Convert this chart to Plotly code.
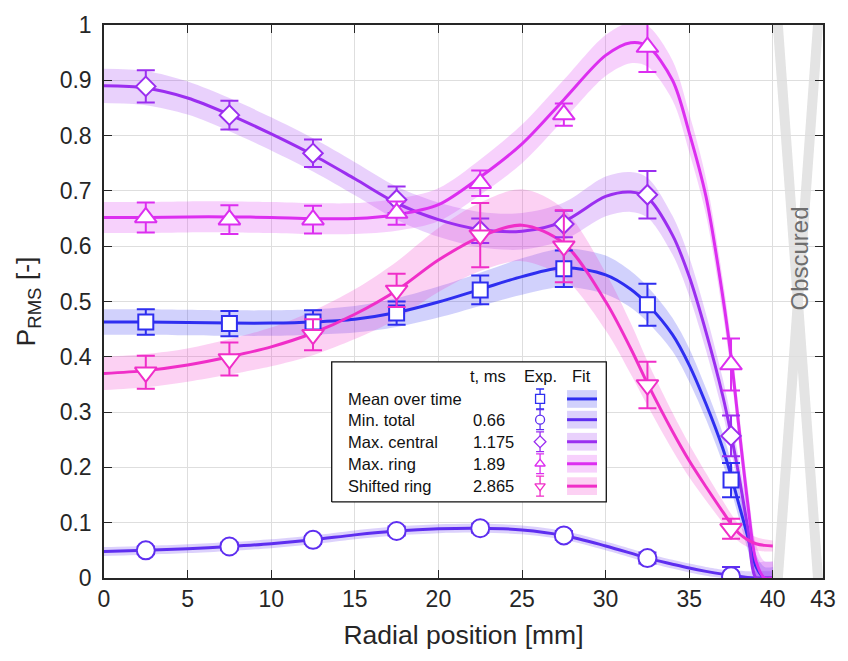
import plotly.graph_objects as go

# ---------------------------------------------------------------- data
# radial positions of the probe measurements [mm]
r_exp = [2.5, 7.5, 12.5, 17.5, 22.5, 27.5, 32.5, 37.5]

series_names = ["Mean over time", "Min. total", "Max. central", "Max. ring", "Shifted ring"]
series_times = ["", "0.66", "1.175", "1.89", "2.865"]
series_colors = ["#2e2ef0", "#5e2ef0", "#9b2ef0", "#dc2ef0", "#f02ec8"]
series_symbols = ["square", "circle", "diamond", "triangle-up", "triangle-down"]
series_sizes = [15, 18, 15, 19, 19]

# measured P_RMS and its uncertainty
p_mean = [0.463, 0.460, 0.463, 0.479, 0.521, 0.559, 0.494, 0.177]
e_mean = [0.023, 0.023, 0.021, 0.021, 0.026, 0.033, 0.038, 0.031]
p_min = [0.050, 0.057, 0.069, 0.085, 0.090, 0.077, 0.036, 0.003]
e_min = [0.007, 0.007, 0.007, 0.008, 0.008, 0.008, 0.010, 0.017]
p_cen = [0.889, 0.837, 0.768, 0.684, 0.628, 0.640, 0.693, 0.257]
e_cen = [0.029, 0.026, 0.025, 0.024, 0.022, 0.024, 0.043, 0.037]
p_ring = [0.652, 0.648, 0.648, 0.660, 0.714, 0.838, 0.960, 0.386]
e_ring = [0.027, 0.026, 0.025, 0.021, 0.023, 0.020, 0.045, 0.047]
p_shift = [0.372, 0.396, 0.440, 0.520, 0.620, 0.600, 0.349, 0.089]
e_shift = [0.030, 0.030, 0.028, 0.030, 0.058, 0.065, 0.042, 0.018]

# smooth radial fits and their confidence half-width
r_fit = [0, 2.5, 5, 7.5, 10, 12.5, 15, 17.5, 20, 22.5, 25, 27.5, 30, 31.5,
         32.5, 34, 35, 36, 37, 37.5, 38, 38.5, 39, 39.5, 40]
f_mean = [0.463, 0.463, 0.462, 0.461, 0.461, 0.463, 0.468, 0.480, 0.499, 0.522,
          0.545, 0.561, 0.548, 0.522, 0.495, 0.440, 0.385, 0.315, 0.235, 0.185,
          0.130, 0.075, 0.020, 0.0, 0.0]
w_mean = [0.023, 0.023, 0.023, 0.023, 0.023, 0.023, 0.024, 0.026, 0.028, 0.030,
          0.033, 0.035, 0.035, 0.033, 0.032, 0.030, 0.030, 0.028, 0.027, 0.026,
          0.025, 0.024, 0.022, 0.020, 0.020]
f_min = [0.048, 0.050, 0.053, 0.057, 0.062, 0.069, 0.078, 0.085, 0.089, 0.090,
         0.087, 0.077, 0.058, 0.045, 0.036, 0.025, 0.018, 0.012, 0.007, 0.005,
         0.003, 0.001, 0.0, 0.0, 0.0]
w_min = [0.008] * 20 + [0.010, 0.011, 0.012, 0.012, 0.012]
f_cen = [0.890, 0.886, 0.868, 0.838, 0.803, 0.765, 0.722, 0.678, 0.648, 0.630,
         0.627, 0.645, 0.690, 0.698, 0.688, 0.620, 0.545, 0.445, 0.330, 0.260,
         0.180, 0.090, 0.0, 0.0, 0.0]
w_cen = [0.031, 0.031, 0.030, 0.030, 0.030, 0.030, 0.030, 0.030, 0.031, 0.032,
         0.033, 0.034, 0.036, 0.036, 0.036, 0.035, 0.035, 0.033, 0.031, 0.030,
         0.030, 0.030, 0.030, 0.030, 0.030]
f_ring = [0.652, 0.652, 0.653, 0.653, 0.652, 0.650, 0.650, 0.657, 0.675, 0.725,
          0.785, 0.865, 0.945, 0.968, 0.962, 0.900, 0.805, 0.690, 0.510, 0.400,
          0.265, 0.135, 0.030, 0.0, 0.0]
w_ring = [0.028, 0.028, 0.028, 0.028, 0.028, 0.028, 0.028, 0.029, 0.030, 0.032,
          0.035, 0.036, 0.037, 0.037, 0.037, 0.036, 0.035, 0.033, 0.031, 0.030,
          0.030, 0.030, 0.030, 0.030, 0.030]
f_shift = [0.370, 0.375, 0.385, 0.400, 0.418, 0.443, 0.477, 0.520, 0.575, 0.617,
           0.638, 0.605, 0.500, 0.415, 0.352, 0.265, 0.212, 0.165, 0.120, 0.098,
           0.080, 0.069, 0.062, 0.059, 0.058]
w_shift = [0.030, 0.030, 0.030, 0.032, 0.035, 0.040, 0.045, 0.052, 0.058, 0.062,
           0.065, 0.062, 0.052, 0.046, 0.040, 0.034, 0.030, 0.025, 0.020, 0.018,
           0.015, 0.013, 0.012, 0.011, 0.010]

exp_vals = [p_mean, p_min, p_cen, p_ring, p_shift]
exp_errs = [e_mean, e_min, e_cen, e_ring, e_shift]
fit_vals = [f_mean, f_min, f_cen, f_ring, f_shift]
fit_wids = [w_mean, w_min, w_cen, w_ring, w_shift]

x_ticks = [0, 5, 10, 15, 20, 25, 30, 35, 40, 43]
y_ticks = [0, 0.1, 0.2, 0.3, 0.4, 0.5, 0.6, 0.7, 0.8, 0.9, 1]
y_tick_text = ["0", "0.1", "0.2", "0.3", "0.4", "0.5", "0.6", "0.7", "0.8", "0.9", "1"]
obscured = (40.0, 43.0)

# ---------------------------------------------------------------- style
FONT = "Liberation Sans, Arial, Helvetica, sans-serif"
AX = "#262626"
SMOOTH = 0.9


def rgba(hex_color, a):
    h = hex_color.lstrip("#")
    r, g, b = int(h[0:2], 16), int(h[2:4], 16), int(h[4:6], 16)
    return f"rgba({r},{g},{b},{a})"


fig = go.Figure()

# confidence bands of the fits
for col, f, w in zip(series_colors, fit_vals, fit_wids):
    lo = [max(v - d, 0.0) for v, d in zip(f, w)]
    hi = [v + d for v, d in zip(f, w)]
    fig.add_trace(go.Scatter(x=r_fit, y=lo, mode="lines",
                             line=dict(width=0, shape="spline", smoothing=SMOOTH),
                             showlegend=False, hoverinfo="skip"))
    fig.add_trace(go.Scatter(x=r_fit, y=hi, mode="lines", fill="tonexty",
                             fillcolor=rgba(col, 0.22),
                             line=dict(width=0, shape="spline", smoothing=SMOOTH),
                             showlegend=False, hoverinfo="skip"))

# fit curves
for col, f in zip(series_colors, fit_vals):
    fig.add_trace(go.Scatter(x=r_fit, y=f, mode="lines",
                             line=dict(color=col, width=3, shape="spline", smoothing=SMOOTH),
                             showlegend=False, hoverinfo="skip"))

# experimental points with error bars
for name, col, sym, size, v, e in zip(series_names, series_colors, series_symbols,
                                      series_sizes, exp_vals, exp_errs):
    fig.add_trace(go.Scatter(
        x=r_exp, y=v, mode="markers", name=name, showlegend=False,
        marker=dict(symbol=sym, size=size, color="white",
                    line=dict(color=col, width=2)),
        error_y=dict(type="data", array=e, visible=True, color=col,
                     thickness=2, width=9)))

# ---------------------------------------------------------------- legend table
# drawn on an overlay axis spanning the plot area in [0, 1] units
row_y = [0.3238, 0.2863, 0.2464, 0.2066, 0.1661]
box_x = [0.3167, 0.6986]
box_y = [0.1375, 0.391]
fig.add_trace(go.Scatter(
    x=[box_x[0], box_x[1], box_x[1], box_x[0], box_x[0]],
    y=[box_y[0], box_y[0], box_y[1], box_y[1], box_y[0]],
    mode="lines", fill="toself", fillcolor="white",
    line=dict(color="#111111", width=1.3),
    xaxis="x2", yaxis="y2", showlegend=False, hoverinfo="skip"))

exp_x = 0.6065
fit_x0, fit_x1 = 0.644, 0.6857
band_h = 0.016
for i, (col, sym) in enumerate(zip(series_colors, series_symbols)):
    yy = row_y[i]
    fig.add_trace(go.Scatter(
        x=[fit_x0, fit_x1, fit_x1, fit_x0, fit_x0],
        y=[yy - band_h, yy - band_h, yy + band_h, yy + band_h, yy - band_h],
        mode="lines", fill="toself", fillcolor=rgba(col, 0.22),
        line=dict(width=0), xaxis="x2", yaxis="y2",
        showlegend=False, hoverinfo="skip"))
    fig.add_trace(go.Scatter(
        x=[fit_x0, fit_x1], y=[yy, yy], mode="lines",
        line=dict(color=col, width=3), xaxis="x2", yaxis="y2",
        showlegend=False, hoverinfo="skip"))
    fig.add_trace(go.Scatter(
        x=[exp_x], y=[yy], mode="markers",
        marker=dict(symbol=sym, size=9, color="white", line=dict(color=col, width=1.3)),
        error_y=dict(type="constant", value=0.018, color=col, thickness=1.3, width=4),
        xaxis="x2", yaxis="y2", showlegend=False, hoverinfo="skip"))

annotations = []
leg_font = dict(family=FONT, size=16.5, color="#111111")
annotations.append(dict(x=0.5056, y=0.3655, xref="paper", yref="paper", text="t, ms",
                        showarrow=False, xanchor="left", yanchor="middle", font=leg_font))
annotations.append(dict(x=0.607, y=0.3655, xref="paper", yref="paper", text="Exp.",
                        showarrow=False, xanchor="center", yanchor="middle", font=leg_font))
annotations.append(dict(x=0.6643, y=0.3655, xref="paper", yref="paper", text="Fit",
                        showarrow=False, xanchor="center", yanchor="middle", font=leg_font))
for i, (name, t) in enumerate(zip(series_names, series_times)):
    annotations.append(dict(x=0.3361, y=row_y[i], xref="paper", yref="paper", text=name,
                            showarrow=False, xanchor="left", yanchor="middle", font=leg_font))
    if t:
        annotations.append(dict(x=0.5107, y=row_y[i], xref="paper", yref="paper", text=t,
                                showarrow=False, xanchor="left", yanchor="middle",
                                font=leg_font))

# obscured window marker
annotations.append(dict(x=(obscured[0] + obscured[1]) / 2 + 0.1, y=0.577, xref="x", yref="y",
                        text="Obscured", textangle=-90, showarrow=False,
                        font=dict(family=FONT, size=24, color="#6e6e6e")))

bw = 0.6
shapes = [
    dict(type="path", xref="x", yref="y", layer="below", line=dict(width=0),
         fillcolor="#e4e4e4",
         path=f"M {obscured[0]},1 L {obscured[0] + bw},1 L {obscured[1]},0 "
              f"L {obscured[1] - bw},0 Z"),
    dict(type="path", xref="x", yref="y", layer="below", line=dict(width=0),
         fillcolor="#e4e4e4",
         path=f"M {obscured[1] - bw},1 L {obscured[1]},1 L {obscured[0] + bw},0 "
              f"L {obscured[0]},0 Z"),
]

axis_common = dict(
    showline=True, linecolor=AX, linewidth=1.5, mirror="ticks",
    ticks="inside", ticklen=8, tickwidth=1.3, tickcolor=AX,
    showgrid=True, gridcolor="#dedede", gridwidth=1, zeroline=False,
    tickfont=dict(family=FONT, size=23, color=AX),
)

fig.update_layout(
    width=848, height=661,
    margin=dict(l=104, r=24, t=18, b=83),
    paper_bgcolor="white", plot_bgcolor="white",
    showlegend=False,
    xaxis=dict(range=[0, 43], tickvals=x_ticks, ticktext=[str(v) for v in x_ticks],
               title=dict(text="Radial position [mm]", standoff=14,
                          font=dict(family=FONT, size=26.5, color=AX)),
               **axis_common),
    yaxis=dict(range=[0, 1], tickvals=y_ticks, ticktext=y_tick_text,
               ticklabelstandoff=6,
               title=dict(text="P<sub>RMS</sub> [-]", standoff=16,
                          font=dict(family=FONT, size=26.5, color=AX)),
               **axis_common),
    xaxis2=dict(overlaying="x", range=[0, 1], visible=False, fixedrange=True),
    yaxis2=dict(overlaying="y", range=[0, 1], visible=False, fixedrange=True),
    annotations=annotations,
    shapes=shapes,
)

fig.write_html("out.html")
